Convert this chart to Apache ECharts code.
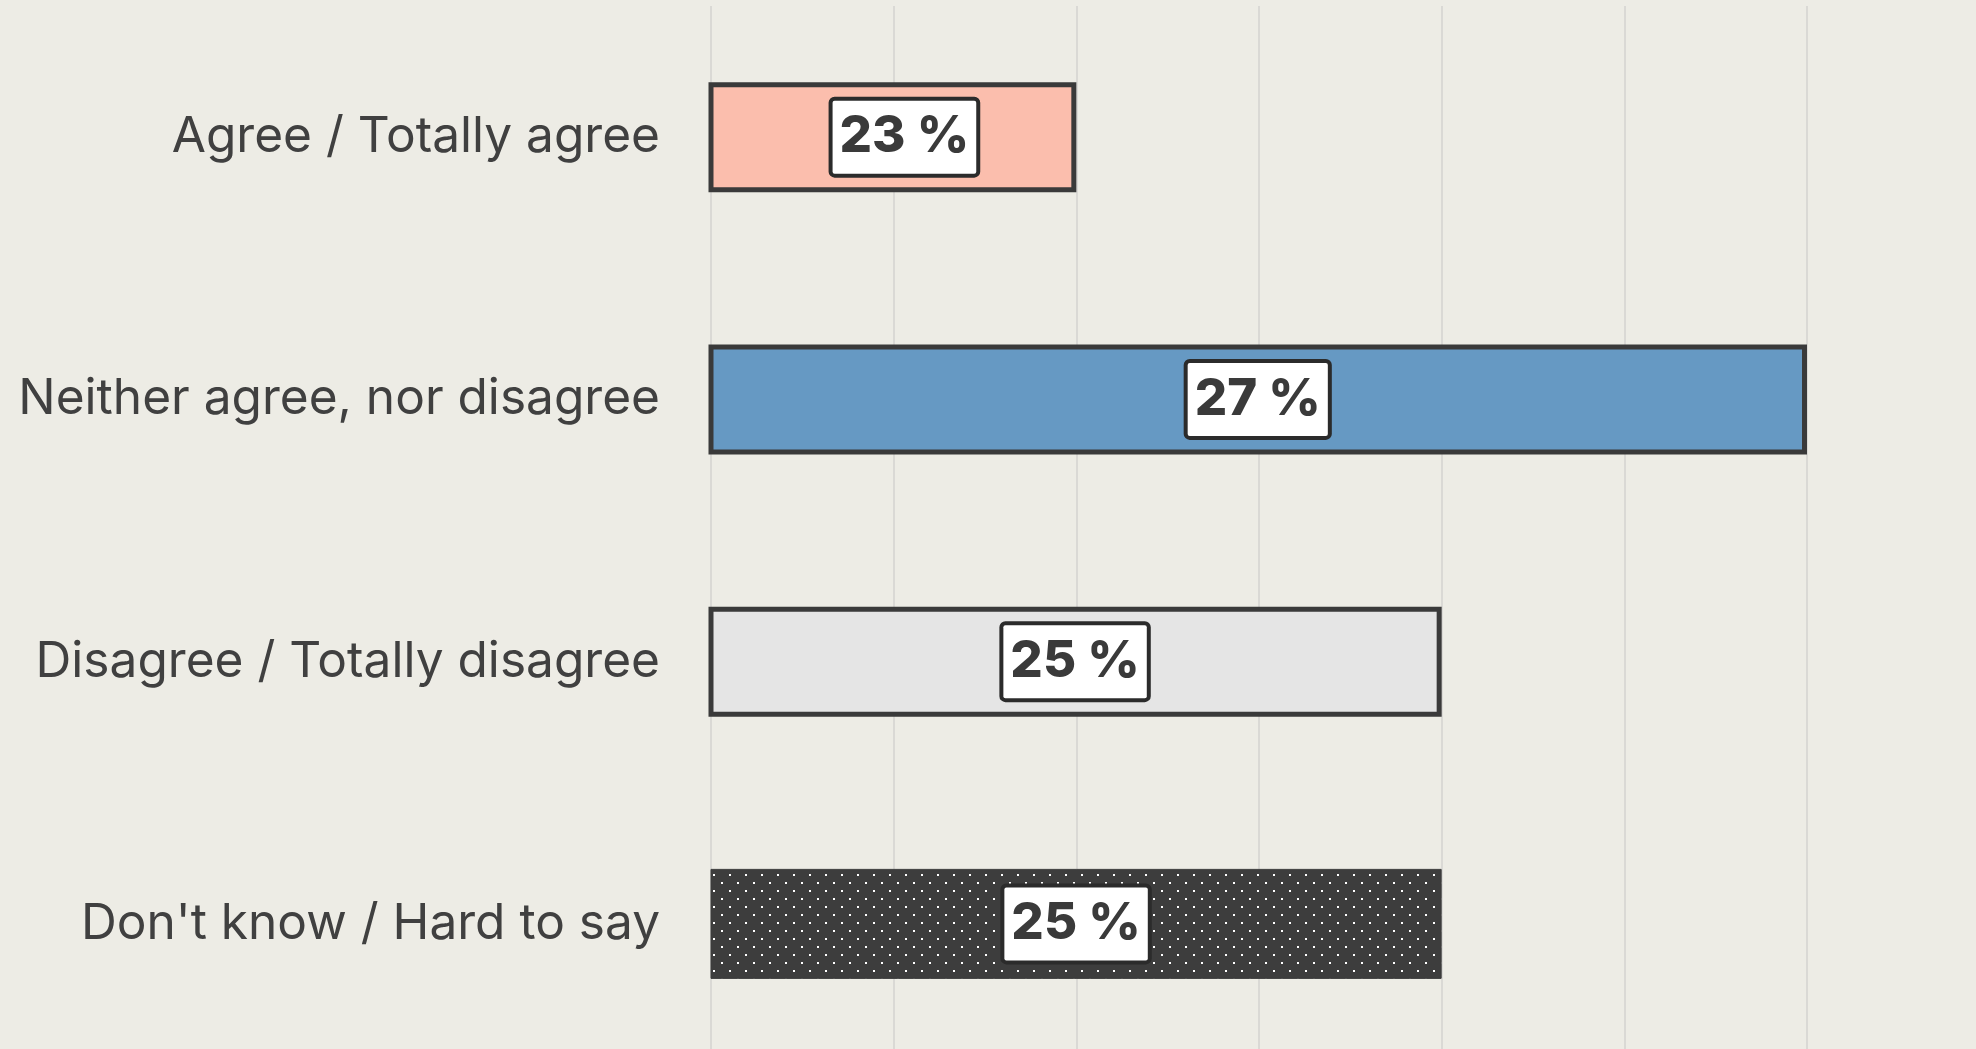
<!DOCTYPE html>
<html>
<head>
<meta charset="utf-8">
<script src="https://cdn.jsdelivr.net/npm/echarts@6/dist/echarts.min.js"></script>
<style>
html,body{margin:0;padding:0;background:#EDECE5;}
#chart{width:1976px;height:1049px;}
</style>
</head>
<body>
<div id="chart"></div>
<script>
const categories = ["Agree / Totally agree", "Neither agree, nor disagree", "Disagree / Totally disagree", "Don't know / Hard to say"];
const values = [23, 27, 25, 25];
const labelTexts = ["23 %", "27 %", "25 %", "25 %"];
const barColors = ["#FBBEAD", "#6699C3", "#E5E5E5", null];

function dotPattern() {
  const c = document.createElement('canvas');
  c.width = 16; c.height = 16;
  const g = c.getContext('2d');
  g.fillStyle = '#3D3D3D';
  g.fillRect(0, 0, 16, 16);
  g.fillStyle = '#FFFFFF';
  g.fillRect(1, 2, 2, 2);
  g.fillRect(9, 10, 2, 2);
  return c;
}

const chart = echarts.init(document.getElementById('chart'), null, {renderer: 'canvas'});
const data = values.map((v, i) => {
  const item = {
    value: v,
    itemStyle: barColors[i]
      ? {color: barColors[i], borderColor: '#3A3A3A', borderWidth: 5}
      : {color: {image: dotPattern(), repeat: 'repeat'}, borderColor: '#3D3D3D', borderWidth: 1}
  };
  if (i === 0) item.label = {offset: [12, 0]};
  return item;
});

chart.setOption({
  backgroundColor: '#EDECE5',
  animation: false,
  grid: {left: 711, top: 6, width: 1096, height: 1049, containLabel: false, outerBoundsMode: 'none'},
  xAxis: {
    type: 'value', min: 21, max: 27, interval: 1,
    axisLabel: {show: false}, axisLine: {show: false}, axisTick: {show: false},
    splitLine: {show: true, lineStyle: {color: '#DAD9D5', width: 2}}
  },
  yAxis: {
    type: 'category', inverse: true, data: categories,
    axisLine: {show: false}, axisTick: {show: false},
    axisLabel: {margin: 51, color: '#404040', fontFamily: 'Inter', fontSize: 49.6, padding: [0, 0, 6, 0]}
  },
  series: [{
    type: 'bar', data: data, barWidth: 110, clip: true,
    label: {
      show: true, position: 'inside',
      formatter: p => labelTexts[p.dataIndex],
      fontFamily: 'Inter', fontWeight: 800, fontSize: 51, color: '#3A3A3A',
      backgroundColor: '#FFFFFF', borderColor: '#2B2B2B', borderWidth: 4, borderRadius: 2,
      padding: [10, 7, 8, 7], lineHeight: 55
    }
  }]
});
</script>
</body>
</html>
